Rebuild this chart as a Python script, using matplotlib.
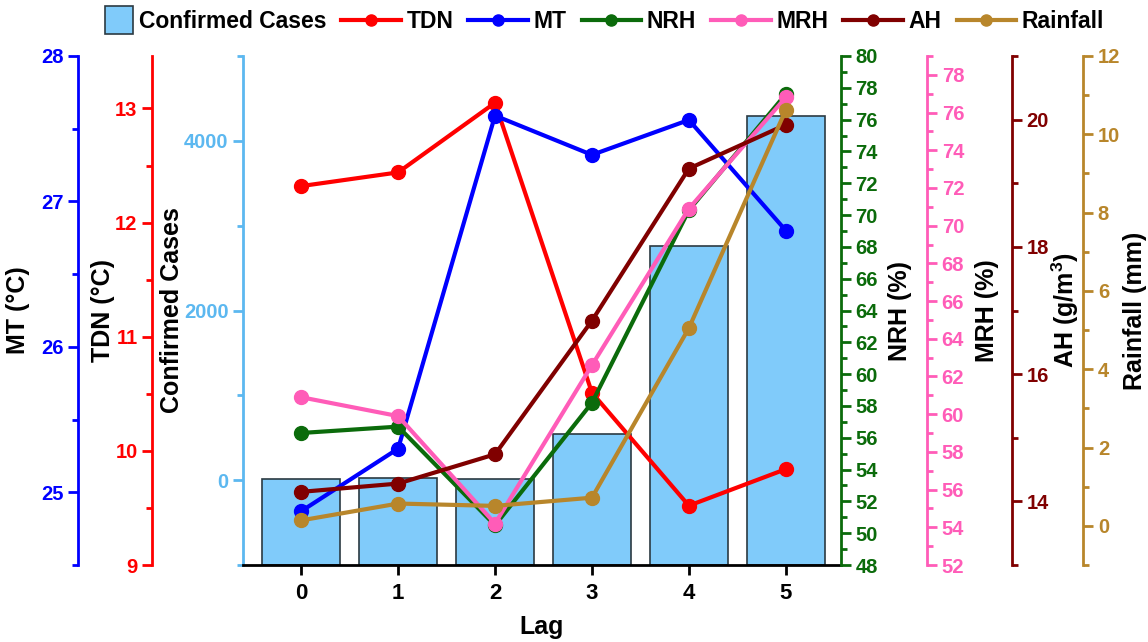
import matplotlib
matplotlib.use('Agg')
import matplotlib.pyplot as plt
import matplotlib.patches as mpatches
from matplotlib.legend_handler import HandlerPatch
from matplotlib.ticker import MultipleLocator
from matplotlib.lines import Line2D

plt.rcParams['font.family'] = ['Liberation Sans', 'DejaVu Sans']
plt.rcParams['font.weight'] = 'bold'
plt.rcParams['mathtext.fontset'] = 'custom'
plt.rcParams['mathtext.rm'] = 'Liberation Sans:bold'
plt.rcParams['mathtext.default'] = 'rm'

# data
lags = [0, 1, 2, 3, 4, 5]
cases = [10, 25, 15, 550, 2760, 4290]
tdn = [12.32, 12.44, 13.05, 10.51, 9.52, 9.84]
mt = [24.87, 25.30, 27.59, 27.32, 27.56, 26.80]
nrh = [56.3, 56.7, 50.5, 58.2, 70.3, 77.6]
mrh = [60.9, 59.9, 54.2, 62.6, 70.9, 76.8]
ah = [14.15, 14.28, 14.74, 16.84, 19.23, 19.92]
rainfall = [0.14, 0.57, 0.51, 0.72, 5.05, 10.62]

CASES_MIN, CASES_MAX = -1000, 5000

BAR_COLOR = '#80CBFA'
BAR_EDGE = '#2B3A42'
CASES_AXIS = '#5CB8F0'

SPINE_W = 2.0
TICK_FS = 14.5
LABEL_FS = 18

fig = plt.figure(figsize=(11.48, 6.42), dpi=100)
ax = fig.add_axes([0.2117, 0.1199, 0.5209, 0.7929])

bars = ax.bar(lags, [c - CASES_MIN for c in cases], bottom=CASES_MIN, width=0.8,
              color=BAR_COLOR, edgecolor=BAR_EDGE, linewidth=1.2, zorder=1)
ax.set_xlim(-0.6, 5.57)
ax.set_ylim(CASES_MIN, CASES_MAX)
ax.set_xticks(lags)
ax.yaxis.set_major_locator(MultipleLocator(2000))
ax.yaxis.set_minor_locator(MultipleLocator(1000))
ax.spines['top'].set_visible(False)
ax.spines['right'].set_visible(False)
ax.spines['bottom'].set_linewidth(SPINE_W)
ax.spines['left'].set_linewidth(SPINE_W)
ax.spines['left'].set_color(CASES_AXIS)
ax.tick_params(axis='x', which='major', direction='out', length=7, width=2,
               labelsize=16, pad=6)
ax.tick_params(axis='y', which='both', colors=CASES_AXIS, width=2,
               labelsize=TICK_FS)
ax.tick_params(axis='y', which='major', length=7)
ax.tick_params(axis='y', which='minor', length=4)
ax.set_xlabel('Lag', fontsize=LABEL_FS, fontweight='bold', labelpad=8)
ax.set_ylabel('Confirmed Cases', fontsize=LABEL_FS, fontweight='bold')
ax.yaxis.set_label_coords(-0.119, 0.5)
ax.yaxis.label.set_verticalalignment('center')


def make_twin(side, offset, color, ylim, major, minor, label, label_x):
    t = ax.twinx()
    for s in t.spines.values():
        s.set_visible(False)
    t.spines[side].set_visible(True)
    t.spines[side].set_position(('axes', offset))
    t.spines[side].set_color(color)
    t.spines[side].set_linewidth(SPINE_W)
    if side == 'left':
        t.yaxis.tick_left()
    else:
        t.yaxis.tick_right()
    t.yaxis.set_label_position(side)
    t.set_ylim(*ylim)
    t.yaxis.set_major_locator(MultipleLocator(major))
    t.yaxis.set_minor_locator(MultipleLocator(minor))
    t.tick_params(axis='y', which='both', colors=color, width=2,
                  labelsize=TICK_FS)
    t.tick_params(axis='y', which='major', length=7)
    t.tick_params(axis='y', which='minor', length=4)
    t.set_ylabel(label, fontsize=LABEL_FS, fontweight='bold', color='black')
    t.yaxis.set_label_coords(label_x, 0.5)
    t.yaxis.label.set_verticalalignment('center')
    return t


series = [
    # name, values, color, side, offset, ylim, major, minor, label, label_x
    ('TDN', tdn, '#FF0000', 'left', -0.152, (9, 13.46), 1, 0.5, 'TDN (°C)', -0.234),
    ('MT', mt, '#0000FF', 'left', -0.276, (24.5, 28), 1, 0.5, 'MT (°C)', -0.376),
    ('NRH', nrh, '#0B6B0B', 'right', 1.0, (48, 80), 2, 1, 'NRH (%)', 1.099),
    ('MRH', mrh, '#FF5CB8', 'right', 1.144, (52, 79), 2, 1, 'MRH (%)', 1.244),
    ('AH', ah, '#800000', 'right', 1.286, (13, 21), 2, 1, r'AH (g/m$^{3}$)', 1.375),
    ('Rainfall', rainfall, '#B8862B', 'right', 1.405, (-1, 12), 2, 1, 'Rainfall (mm)', 1.492),
]

handles = [bars.patches[0]]
labels = ['Confirmed Cases']

for name, vals, color, side, offset, ylim, major, minor, label, lx in series:
    t = make_twin(side, offset, color, ylim, major, minor, label, lx)
    ln, = t.plot(lags, vals, color=color, linewidth=3, marker='o',
                 markersize=10, clip_on=False)
    handles.append(Line2D([], [], color=color, linewidth=3, marker='o',
                          markersize=8))
    labels.append(name)


def square_patch(legend, orig_handle, xdescent, ydescent, width, height, fontsize):
    # square box sitting at the right end of the handle slot
    s = height * 1.75
    return mpatches.Rectangle((width - s, height / 2 - s / 2), s, s)


fig.legend(handles, labels, loc='center', bbox_to_anchor=(0.513, 0.966),
           ncol=7, frameon=False, prop={'size': 16.5, 'weight': 'bold'},
           handlelength=2.6, handletextpad=0.25, columnspacing=0.65,
           handler_map={mpatches.Rectangle: HandlerPatch(patch_func=square_patch)})

fig.savefig('out.png', dpi=100)
